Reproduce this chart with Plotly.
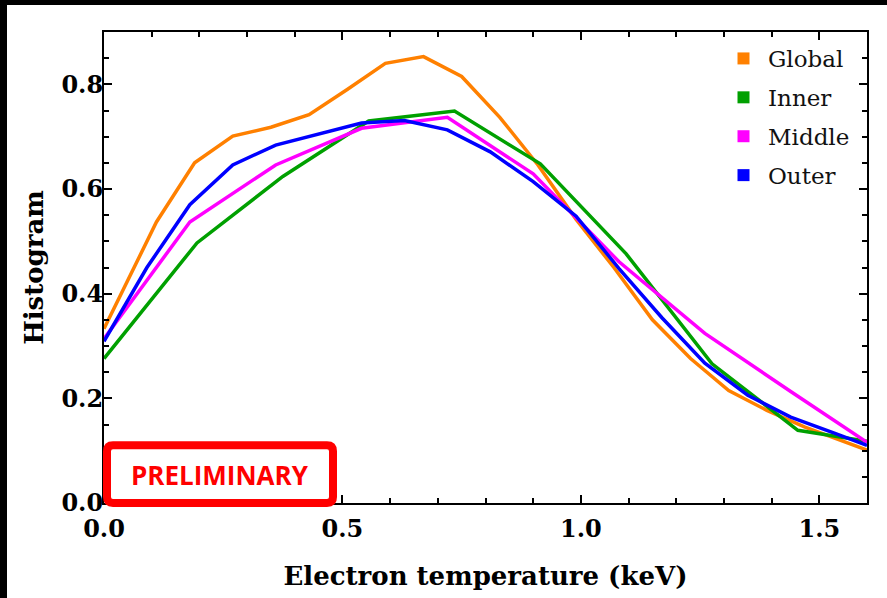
import plotly.graph_objects as go

# ---- data ----
global_x = [0.0, 0.11, 0.19, 0.27, 0.35, 0.43, 0.51, 0.59, 0.67, 0.75, 0.83, 0.91,
            0.99, 1.07, 1.15, 1.23, 1.31, 1.39, 1.47, 1.55, 1.6]
global_y = [0.333, 0.537, 0.650, 0.701, 0.718, 0.742, 0.790, 0.840, 0.853, 0.815, 0.737, 0.646,
            0.542, 0.449, 0.350, 0.276, 0.215, 0.177, 0.145, 0.118, 0.101]

inner_x = [0.0, 0.195, 0.375, 0.555, 0.735, 0.915, 1.095, 1.275, 1.455, 1.6]
inner_y = [0.276, 0.497, 0.624, 0.730, 0.749, 0.648, 0.476, 0.266, 0.139, 0.118]

middle_x = [0.0, 0.18, 0.36, 0.54, 0.72, 0.90, 1.08, 1.26, 1.44, 1.6]
middle_y = [0.314, 0.537, 0.646, 0.716, 0.737, 0.629, 0.461, 0.324, 0.213, 0.116]

outer_x = [0.0, 0.09, 0.18, 0.27, 0.36, 0.45, 0.54, 0.63, 0.72, 0.81, 0.90, 0.99,
           1.08, 1.17, 1.26, 1.35, 1.44, 1.53, 1.6]
outer_y = [0.309, 0.450, 0.570, 0.646, 0.684, 0.705, 0.726, 0.731, 0.713, 0.671, 0.614, 0.548,
           0.448, 0.354, 0.267, 0.206, 0.164, 0.134, 0.110]

series_names = ["Global", "Inner", "Middle", "Outer"]
series_colors = ["#ff8000", "#00a000", "#ff00ff", "#0000ff"]

x_ticks = [0.0, 0.5, 1.0, 1.5]
x_tick_labels = ["0.0", "0.5", "1.0", "1.5"]
y_ticks = [0.0, 0.2, 0.4, 0.6, 0.8]
y_tick_labels = ["0.0", "0.2", "0.4", "0.6", "0.8"]

xs = [global_x, inner_x, middle_x, outer_x]
ys = [global_y, inner_y, middle_y, outer_y]

fig = go.Figure()
for name, color, x, y in zip(series_names, series_colors, xs, ys):
    fig.add_trace(go.Scatter(x=x, y=y, mode="lines", name=name,
                             line=dict(color=color, width=3.5),
                             showlegend=False, legendgroup=name))
# legend entries with square swatches
for name, color in zip(series_names, series_colors):
    fig.add_trace(go.Scatter(x=[None], y=[None], mode="markers", name=name,
                             marker=dict(symbol="square", size=12, color=color),
                             legendgroup=name, showlegend=True))

# plot-area geometry in pixels (for paper-coordinate conversion of decorations)
W, H = 887, 598
L, R, T, B = 104, 867, 32, 505
pw, ph = R - L, B - T

def px(xp):
    return (xp - L) / pw

def py(yp):
    return (B - yp) / ph

# rounded PRELIMINARY box
bx0, bx1, by0, by1, r = 107, 333, 447, 505, 6
path = (f"M {px(bx0 + r)},{py(by0)} L {px(bx1 - r)},{py(by0)} "
        f"Q {px(bx1)},{py(by0)} {px(bx1)},{py(by0 + r)} "
        f"L {px(bx1)},{py(by1 - r)} Q {px(bx1)},{py(by1)} {px(bx1 - r)},{py(by1)} "
        f"L {px(bx0 + r)},{py(by1)} Q {px(bx0)},{py(by1)} {px(bx0)},{py(by1 - r)} "
        f"L {px(bx0)},{py(by0 + r)} Q {px(bx0)},{py(by0)} {px(bx0 + r)},{py(by0)} Z")

shapes = [
    dict(type="path", xref="paper", yref="paper", path=path,
         line=dict(color="#ff0000", width=8), fillcolor="white", layer="above"),
    # black frame strips from the original screenshot
    dict(type="rect", xref="paper", yref="paper", x0=px(-5), x1=px(7), y0=py(605), y1=py(-5),
         fillcolor="black", line=dict(width=0), layer="above"),
    dict(type="rect", xref="paper", yref="paper", x0=px(-5), x1=px(895), y0=py(5), y1=py(-5),
         fillcolor="black", line=dict(width=0), layer="above"),
]

annotations = [
    dict(text="PRELIMINARY", xref="paper", yref="paper", x=px(220), y=py(477),
         xanchor="center", yanchor="middle", showarrow=False,
         font=dict(family="Open Sans", size=26, color="#ff0000", weight="bold")),
]

axis_common = dict(
    showline=True, linecolor="black", linewidth=2, mirror="allticks",
    ticks="inside", ticklen=8, tickwidth=2, tickcolor="black",
    showgrid=False, zeroline=False,
    tickfont=dict(family="DejaVu Serif", size=24, color="black", weight="bold"),
)

fig.update_layout(
    width=W, height=H,
    margin=dict(l=L, r=W - R, t=T, b=H - B, pad=0),
    paper_bgcolor="white", plot_bgcolor="white",
    font=dict(family="DejaVu Serif", color="black"),
    xaxis=dict(range=[0, 1.6], tickvals=x_ticks, ticktext=x_tick_labels,
               ticklabelstandoff=3,
               minor=dict(dtick=0.1, tick0=0, ticks="inside", ticklen=5, tickwidth=1.5, tickcolor="black"),
               title=dict(text="Electron temperature (keV)", standoff=25,
                          font=dict(family="DejaVu Serif", size=26, color="black", weight="bold")),
               **axis_common),
    yaxis=dict(range=[0, 0.9], tickvals=y_ticks, ticktext=y_tick_labels,
               ticklabelstandoff=-6,
               minor=dict(dtick=0.05, tick0=0, ticks="inside", ticklen=5, tickwidth=1.5, tickcolor="black"),
               title=dict(text="Histogram", standoff=10,
                          font=dict(family="DejaVu Serif", size=26, color="black", weight="bold")),
               **axis_common),
    legend=dict(x=px(719), y=py(37), xanchor="left", yanchor="top",
                bgcolor="rgba(0,0,0,0)", borderwidth=0,
                font=dict(family="DejaVu Serif", size=23, color="#111111"),
                tracegroupgap=6, traceorder="grouped", itemwidth=39),
    shapes=shapes,
    annotations=annotations,
)

fig.write_html(
    "out.html",
    config={"displayModeBar": False},
    post_script="document.body.style.margin='0';document.body.style.overflow='hidden';",
)
